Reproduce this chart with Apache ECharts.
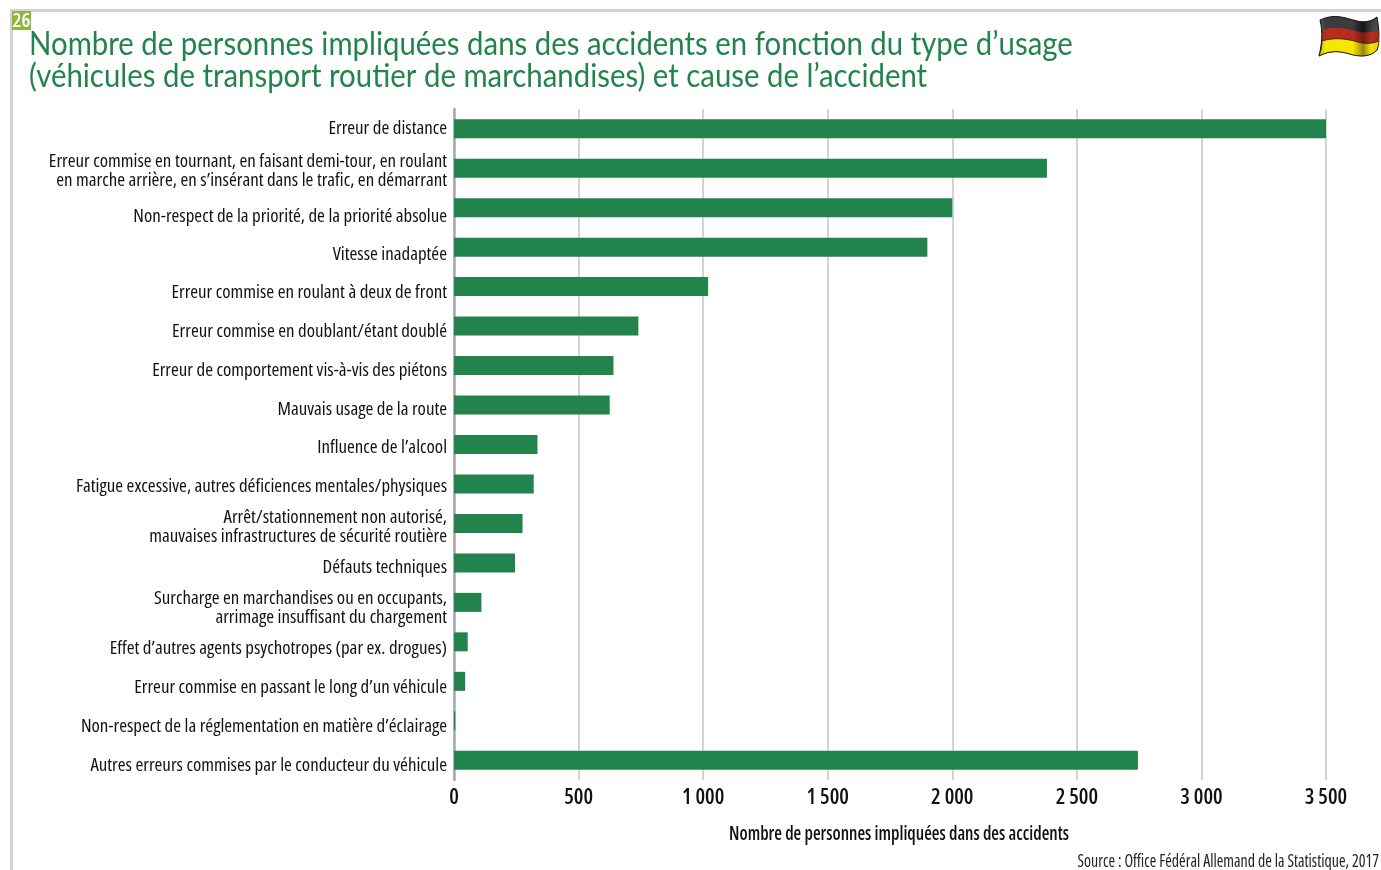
<!DOCTYPE html>
<html><head><meta charset="utf-8">
<style>html,body{margin:0;padding:0;background:#fff}#c{width:1381px;height:870px}</style>
<script src="https://cdn.jsdelivr.net/npm/echarts@6/dist/echarts.min.js"></script></head>
<body><div id="c"></div>
<script>
const categories = [
"Erreur de distance",
"Erreur commise en tournant, en faisant demi-tour, en roulant\nen marche arrière, en s’insérant dans le trafic, en démarrant",
"Non-respect de la priorité, de la priorité absolue",
"Vitesse inadaptée",
"Erreur commise en roulant à deux de front",
"Erreur commise en doublant/étant doublé",
"Erreur de comportement vis-à-vis des piétons",
"Mauvais usage de la route",
"Influence de l’alcool",
"Fatigue excessive, autres déficiences mentales/physiques",
"Arrêt/stationnement non autorisé,\nmauvaises infrastructures de sécurité routière",
"Défauts techniques",
"Surcharge en marchandises ou en occupants,\narrimage insuffisant du chargement",
"Effet d’autres agents psychotropes (par ex. drogues)",
"Erreur commise en passant le long d’un véhicule",
"Non-respect de la réglementation en matière d’éclairage",
"Autres erreurs commises par le conducteur du véhicule"];
const values = [3500,2380,2000,1900,1020,740,640,625,335,320,275,245,110,55,45,5,2745];
const labelShift = [0,3,8.5,7.5,6.5,5.5,5.5,4.5,3.5,2.5,3.5,4.5,5.5,6.5,6.5,5.5,5.5];
const titleLines = ["Nombre de personnes impliquées dans des accidents en fonction du type d’usage","(véhicules de transport routier de marchandises) et cause de l’accident"];
const xName = "Nombre de personnes impliquées dans des accidents";
const sourceText = "Source : Office Fédéral Allemand de la Statistique, 2017";
const GREEN = "#23834d", COND = "'Open Sans'";
const outline='M1320 20 C1335 13 1345 18 1357 21 C1365 23 1372 21 1377 17 C1379 28 1380 40 1377 50 C1370 57 1360 57 1350 54 C1340 51 1330 50 1319 56 C1322 44 1323 32 1320 20 Z';
const red='M1323 30 C1335 25 1348 29 1360 32 C1367 33 1373 32 1378 30 L1379 41 C1372 44 1365 44 1358 42 C1347 39 1335 37 1322 41 C1323 37 1323 33 1323 30 Z';
const yellow='M1322 41 C1335 37 1347 39 1358 42 C1365 44 1372 44 1379 41 C1379 44 1378 47 1377 50 C1370 57 1360 57 1350 54 C1340 51 1330 50 1319 56 C1321 51 1322 46 1322 41 Z';
echarts.graphic.registerShape('flagOutline',echarts.graphic.extendPath(outline));
echarts.graphic.registerShape('flagRed',echarts.graphic.extendPath(red));
echarts.graphic.registerShape('flagYellow',echarts.graphic.extendPath(yellow));
const chart = echarts.init(document.getElementById('c'),null,{renderer:'canvas'});
const grad=(stops)=>({type:'linear',x:1320,y:0,x2:1380,y2:0,global:true,colorStops:stops});
const stops=(a,b,c)=>[{offset:0,color:b},{offset:.1,color:a},{offset:.55,color:a},{offset:.72,color:c},{offset:.85,color:a},{offset:1,color:b}];
chart.setOption({
 animation:false,backgroundColor:'#fff',
 grid:{left:454,top:109,width:872,height:671,containLabel:false},
 xAxis:{type:'value',min:0,max:3500,interval:500,
  axisLine:{show:false},axisTick:{show:false},
  splitLine:{show:true,lineStyle:{color:'#d4d4d4',width:2}},
  axisLabel:{color:'#111',fontFamily:COND,fontStyle:'condensed',fontWeight:600,fontSize:21.5,margin:7,formatter:v=>String(v).replace(/\B(?=(\d{3})+$)/g,' ')}},
 yAxis:{type:'category',inverse:true,data:categories,
  axisLine:{show:true,lineStyle:{color:'#a8a8a8',width:2.5}},axisTick:{show:false},axisLabel:{show:false}},
 series:[{type:'bar',data:values,barWidth:19,itemStyle:{color:GREEN},silent:true,
  label:{show:true,position:'left',distance:7,formatter:'{b}',color:'#111',fontFamily:COND,fontStyle:'condensed',fontWeight:500,fontSize:18.9,lineHeight:19},
  labelLayout:p=>({dy:labelShift[p.dataIndex]})}],
 graphic:[
  {type:'rect',shape:{x:10,y:9,width:1371,height:3},style:{fill:'#d2d2d2'},silent:true},
  {type:'rect',shape:{x:10,y:9,width:3,height:861},style:{fill:'#d2d2d2'},silent:true},
  {type:'rect',shape:{x:12,y:11,width:19,height:19},style:{fill:'#8fb63a'},silent:true},
  {type:'text',x:21.5,y:21,style:{text:'26',fill:'#fff',font:"condensed 600 20px "+COND,textAlign:'center',textVerticalAlign:'middle'},silent:true},
  {type:'text',x:29,y:45,scaleX:.918,style:{text:titleLines[0],fill:GREEN,font:"400 32px Lato",textVerticalAlign:'middle'},silent:true},
  {type:'text',x:29,y:77,scaleX:.918,style:{text:titleLines[1],fill:GREEN,font:"400 32px Lato",textVerticalAlign:'middle'},silent:true},
  {type:'text',x:899,y:834,scaleX:.88,style:{text:xName,fill:'#111',font:"condensed 600 20px "+COND,textAlign:'center',textVerticalAlign:'middle'},silent:true},
  {type:'text',x:1379,y:862,scaleX:.883,style:{text:sourceText,fill:'#222',font:"condensed 18px "+COND,textAlign:'right',textVerticalAlign:'middle'},silent:true},
  {type:'flagOutline',style:{fill:grad(stops('#3c3c3c','#555','#151515')),stroke:'#111',lineWidth:1},silent:true},
  {type:'flagRed',style:{fill:grad(stops('#b82c1e','#a82618','#7a1a10'))},silent:true},
  {type:'flagYellow',style:{fill:grad(stops('#f6e600','#d8c800','#968510')),stroke:'#111',lineWidth:.7},silent:true}
 ]
});
</script></body></html>
